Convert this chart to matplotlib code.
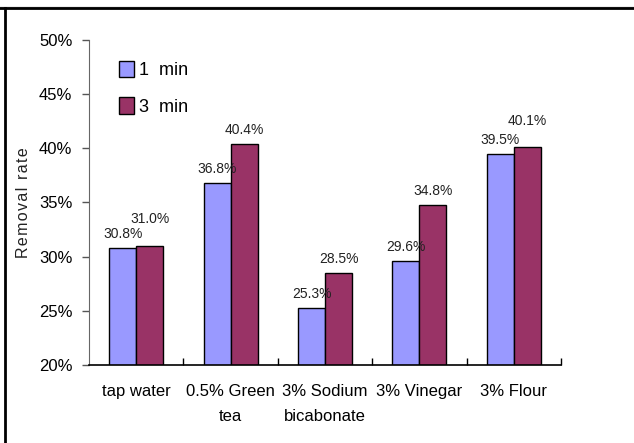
import numpy as np
import matplotlib
matplotlib.use('Agg')
from matplotlib import pyplot as plt
from matplotlib.lines import Line2D
from matplotlib.ticker import FixedLocator

plt.rcParams['font.family'] = ['Liberation Sans', 'DejaVu Sans']

# --- data ---
categories = ['tap water', '0.5% Green\ntea', '3% Sodium\nbicabonate', '3% Vinegar', '3% Flour']
series_names = ['1  min', '3  min']
rate_1min = [30.8, 36.8, 25.3, 29.6, 39.5]
rate_3min = [31.0, 40.4, 28.5, 34.8, 40.1]

colors = ['#9999FF', '#993366']
# extra lift (points) for labels that would otherwise crowd a neighbour
lift_1min = [0, 0, 0, 0, 0]
lift_3min = [9, 0, 0, 0, 9]

fig = plt.figure(figsize=(6.34, 4.43), dpi=100)
ax = fig.add_axes([0.1404, 0.1761, 0.7445, 0.7336])

x = np.arange(len(categories))
w = 0.286
for vals, off, col, name, lifts in [(rate_1min, -w / 2, colors[0], series_names[0], lift_1min),
                                    (rate_3min, w / 2, colors[1], series_names[1], lift_3min)]:
    ax.bar(x + off, vals, width=w, color=col, edgecolor='black', linewidth=1.0,
           label=name, zorder=2)
    for xi, v, lf in zip(x + off, vals, lifts):
        ax.annotate(f'{v:.1f}%', (xi, v), xytext=(0, 5 + lf), textcoords='offset points',
                    ha='center', va='bottom', fontsize=10, color='#222222')

ax.set_xlim(-0.5, len(categories) - 0.5)
ax.set_ylim(20, 50)
ax.set_yticks(np.arange(20, 51, 5))
ax.set_yticklabels([f'{t}%' for t in range(20, 51, 5)], fontsize=12)
ax.tick_params(axis='y', direction='out', length=5, width=1, pad=7, color='#555555')

# category labels sit between the boundary ticks
ax.xaxis.set_major_locator(FixedLocator(np.arange(0.5, len(categories), 1.0)))
ax.xaxis.set_minor_locator(FixedLocator(x))
ax.set_xticklabels([])
ax.set_xticklabels(categories, minor=True, fontsize=12, linespacing=1.8)
ax.tick_params(axis='x', which='major', direction='in', length=5, width=1)
ax.tick_params(axis='x', which='minor', length=0, pad=14)

ax.spines['top'].set_visible(False)
ax.spines['right'].set_visible(False)
ax.spines['left'].set_color('#666666')
ax.spines['bottom'].set_linewidth(1.2)

ylab = '\u200a'.join('Removal') + '\u2009 ' + '\u200a'.join('rate')
ax.set_ylabel(ylab, fontsize=11.5, color='#222222')
ax.yaxis.set_label_coords(-0.122, 0.5)

leg = ax.legend(loc='upper left', bbox_to_anchor=(0.03, 0.985), frameon=False,
                fontsize=13, handlelength=0.8, handleheight=1.0, handletextpad=0.3,
                labelspacing=1.0)

# outer chart frame
fig.add_artist(Line2D([0, 1], [0.985, 0.985], color='#aaaaaa', lw=1, transform=fig.transFigure))
fig.add_artist(Line2D([0.0, 1], [0.981, 0.981], color='black', lw=2, transform=fig.transFigure))
fig.add_artist(Line2D([0.0085, 0.0085], [0, 0.981], color='black', lw=2, transform=fig.transFigure))

fig.savefig('out.png', dpi=100)
